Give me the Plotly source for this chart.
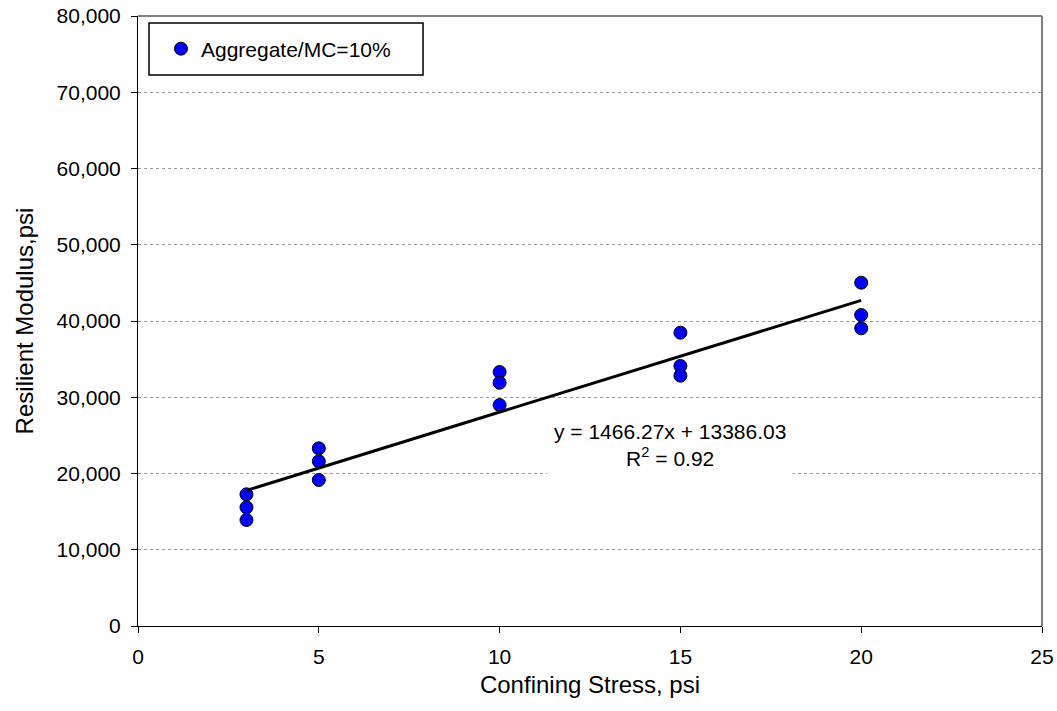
import numpy as np
import plotly.graph_objects as go

# Data
confining_stress = [3, 3, 3, 5, 5, 5, 10, 10, 10, 15, 15, 15, 20, 20, 20]
resilient_modulus = [17270, 15570, 13900,
                     23300, 21600, 19150,
                     33310, 31900, 28980,
                     38470, 34100, 32830,
                     45020, 40790, 39040]
series_name = "Aggregate/MC=10%"
slope = 1466.27
intercept = 13386.03
r_squared = 0.92

x_ticks = [0, 5, 10, 15, 20, 25]
y_ticks = [0, 10000, 20000, 30000, 40000, 50000, 60000, 70000, 80000]

FONT = "Liberation Sans, Arial, sans-serif"

fit_x = np.array([min(confining_stress), max(confining_stress)], dtype=float)
fit_y = slope * fit_x + intercept

fig = go.Figure()
fig.add_trace(go.Scatter(
    x=confining_stress, y=resilient_modulus, mode="markers", name=series_name,
    marker=dict(color="#0000FF", size=13, line=dict(color="black", width=1)),
))
fig.add_trace(go.Scatter(
    x=fit_x, y=fit_y, mode="lines", showlegend=False,
    line=dict(color="black", width=3),
))

fig.add_annotation(
    x=14.7, y=23700, xref="x", yref="y",
    text=f"y = {slope:.2f}x + {intercept:.2f}<br>R<sup>2</sup> = {r_squared:.2f}",
    showarrow=False, bgcolor="white", borderpad=6,
    font=dict(family=FONT, size=21, color="black"), align="center",
)

# gray top/right border
fig.add_shape(type="line", xref="paper", yref="paper", x0=0, x1=1, y0=1, y1=1,
              line=dict(color="#808080", width=2))
fig.add_shape(type="line", xref="paper", yref="paper", x0=1, x1=1, y0=0, y1=1,
              line=dict(color="#808080", width=2))
# legend frame
fig.add_shape(type="rect", xref="paper", yref="paper",
              x0=0.0122, x1=0.3153, y0=0.9033, y1=0.9885,
              line=dict(color="black", width=1.5), fillcolor="white", layer="above")

fig.update_layout(
    width=1057, height=711,
    margin=dict(l=138, r=15, t=16, b=85, autoexpand=False),
    paper_bgcolor="white", plot_bgcolor="white",
    font=dict(family=FONT, size=21, color="black"),
    showlegend=True,
    legend=dict(
        x=0.0254, y=0.9459, xanchor="left", yanchor="middle",
        bgcolor="rgba(0,0,0,0)", borderwidth=0,
        font=dict(family=FONT, size=21, color="black"),
        itemwidth=30,
    ),
    xaxis=dict(
        range=[0, 25], tickvals=x_ticks, showgrid=False, zeroline=False,
        showline=True, linecolor="black", linewidth=1, automargin=False,
        ticks="outside", ticklen=6, tickcolor="black", ticklabelstandoff=6,
        title=dict(text="Confining Stress, psi", standoff=8,
                   font=dict(family=FONT, size=24)),
        tickfont=dict(family=FONT, size=21),
    ),
    yaxis=dict(
        range=[0, 80000], tickvals=y_ticks, tickformat=",d",
        showgrid=True, gridcolor="#9a9a9a", griddash="dot", gridwidth=1,
        zeroline=False, showline=True, linecolor="black", linewidth=1,
        automargin=False,
        ticks="outside", ticklen=6, tickcolor="black", ticklabelstandoff=6,
        title=dict(text="Resilient Modulus,psi", standoff=16,
                   font=dict(family=FONT, size=24)),
        tickfont=dict(family=FONT, size=21),
    ),
)

fig.write_html("out.html")
